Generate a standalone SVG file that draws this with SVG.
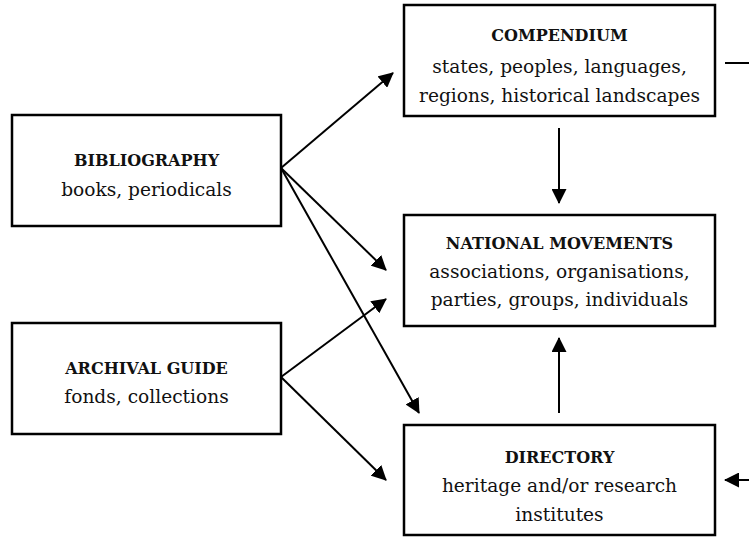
<svg xmlns="http://www.w3.org/2000/svg" width="749" height="537" viewBox="0 0 749 537">
<style>
.box{fill:#fff;stroke:#000;stroke-width:2.5}
.t{font-family:"DejaVu Serif","Liberation Serif",serif;font-size:16px;font-weight:bold;text-anchor:middle;fill:#111}
.b{font-family:"DejaVu Serif","Liberation Serif",serif;font-size:18.6px;text-anchor:middle;fill:#111}
.c{stroke:#000;stroke-width:2;fill:none}
.a{marker-end:url(#ah)}
</style>
<defs>
<marker id="ah" markerUnits="userSpaceOnUse" markerWidth="15" markerHeight="15" refX="14" refY="7.5" orient="auto">
<path d="M0,0 L15,7.5 L0,15 z" fill="#000"/>
</marker>
</defs>
<g id="connectors">
<line class="c a" x1="281" y1="168" x2="393" y2="73"/>
<line class="c a" x1="281" y1="168" x2="386" y2="270"/>
<line class="c a" x1="281" y1="168" x2="419" y2="413"/>
<line class="c a" x1="281" y1="377" x2="386" y2="299"/>
<line class="c a" x1="281" y1="377" x2="386" y2="480"/>
<line class="c a" x1="559" y1="128" x2="559" y2="203"/>
<line class="c a" x1="559" y1="413" x2="559" y2="338"/>
<line class="c" x1="725" y1="63" x2="749" y2="63"/>
<line class="c a" x1="752" y1="480" x2="725" y2="480"/>
</g>
<g id="compendium">
<rect class="box" x="404" y="5" width="311" height="111"/>
<text class="t" x="559.5" y="41">COMPENDIUM</text>
<text class="b" x="559.5" y="73">states, peoples, languages,</text>
<text class="b" x="559.5" y="102">regions, historical landscapes</text>
</g>
<g id="bibliography">
<rect class="box" x="12" y="115" width="269" height="111"/>
<text class="t" x="146.5" y="166">BIBLIOGRAPHY</text>
<text class="b" x="146.5" y="196">books, periodicals</text>
</g>
<g id="archival">
<rect class="box" x="12" y="323" width="269" height="111"/>
<text class="t" x="146.5" y="374">ARCHIVAL GUIDE</text>
<text class="b" x="146.5" y="403">fonds, collections</text>
</g>
<g id="national">
<rect class="box" x="404" y="215" width="311" height="111"/>
<text class="t" x="559.5" y="249">NATIONAL MOVEMENTS</text>
<text class="b" x="559.5" y="278">associations, organisations,</text>
<text class="b" x="559.5" y="306">parties, groups, individuals</text>
</g>
<g id="directory">
<rect class="box" x="404" y="425" width="311" height="110"/>
<text class="t" x="559.5" y="463">DIRECTORY</text>
<text class="b" x="559.5" y="492">heritage and/or research</text>
<text class="b" x="559.5" y="521">institutes</text>
</g>
</svg>
